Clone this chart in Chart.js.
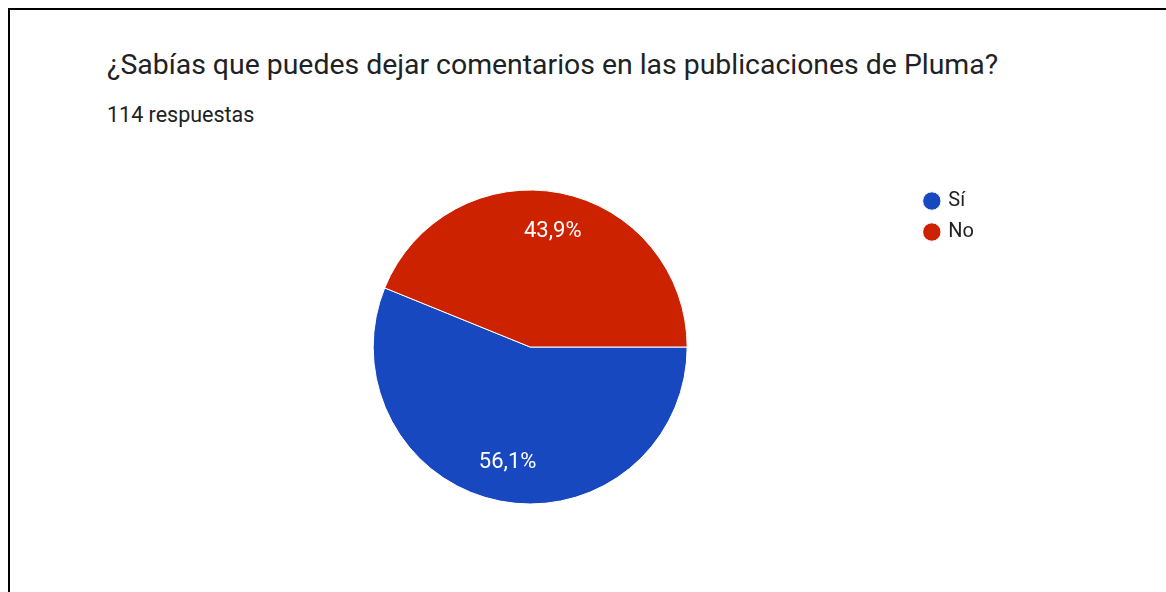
<!DOCTYPE html>
<html>
<head>
<meta charset="utf-8">
<script src="https://cdn.jsdelivr.net/npm/chart.js@4"></script>
<style>
  html, body { margin: 0; padding: 0; background: #fff; }
  body { width: 1166px; height: 592px; position: relative; overflow: hidden; font-family: Roboto, Arial, sans-serif; }
  .frame { position: absolute; left: 8px; top: 8px; right: -10px; bottom: -10px; border-top: 2px solid #000; border-left: 2px solid #000; }
  .title { position: absolute; left: 107px; top: 51px; font-size: 28.4px; line-height: 1; color: #202124; white-space: nowrap; }
  .sub { position: absolute; left: 107px; top: 104px; font-size: 21.5px; line-height: 1; color: #202124; white-space: nowrap; }
  .wrap { position: absolute; left: 0; top: 0; width: 1166px; height: 592px; }
</style>
</head>
<body>
<div class="frame"></div>
<div class="title">¿Sabías que puedes dejar comentarios en las publicaciones de Pluma?</div>
<div class="sub">114 respuestas</div>
<div class="wrap"><canvas id="pie"></canvas></div>
<script>
const respuestas = ['Sí', 'No'];
const conteos = [64, 50];
const colores = ['#1848c0', '#cc2200'];

// porcentaje escrito dentro de cada porción
const etiquetas = {
  id: 'etiquetas',
  afterDatasetsDraw(chart) {
    const ctx = chart.ctx;
    const data = chart.data.datasets[0].data;
    const total = data.reduce((a, b) => a + b, 0);
    chart.getDatasetMeta(0).data.forEach((arc, i) => {
      const p = arc.getProps(['x', 'y', 'startAngle', 'endAngle', 'outerRadius'], true);
      const mid = (p.startAngle + p.endAngle) / 2;
      const r = p.outerRadius * 0.75;
      const txt = (data[i] / total * 100).toFixed(1).replace('.', ',') + '%';
      ctx.save();
      ctx.font = '22px Roboto';
      ctx.fillStyle = '#ffffff';
      ctx.textAlign = 'center';
      ctx.textBaseline = 'middle';
      ctx.fillText(txt, p.x + Math.cos(mid) * r, p.y + Math.sin(mid) * r);
      ctx.restore();
    });
  }
};

new Chart(document.getElementById('pie'), {
  type: 'pie',
  data: {
    labels: respuestas,
    datasets: [{
      data: conteos,
      backgroundColor: colores,
      borderColor: '#ffffff',
      borderWidth: 1
    }]
  },
  options: {
    responsive: true,
    maintainAspectRatio: false,
    animation: false,
    rotation: 90,
    radius: 157,
    layout: { padding: { top: 180, bottom: 78, left: 146, right: 182 } },
    plugins: {
      legend: {
        position: 'right',
        align: 'start',
        labels: {
          usePointStyle: true,
          pointStyle: 'circle',
          boxWidth: 13,
          boxHeight: 13,
          padding: 11,
          color: '#222222',
          font: { family: 'Roboto', size: 20 }
        }
      },
      tooltip: { enabled: false }
    }
  },
  plugins: [etiquetas]
});
</script>
</body>
</html>
